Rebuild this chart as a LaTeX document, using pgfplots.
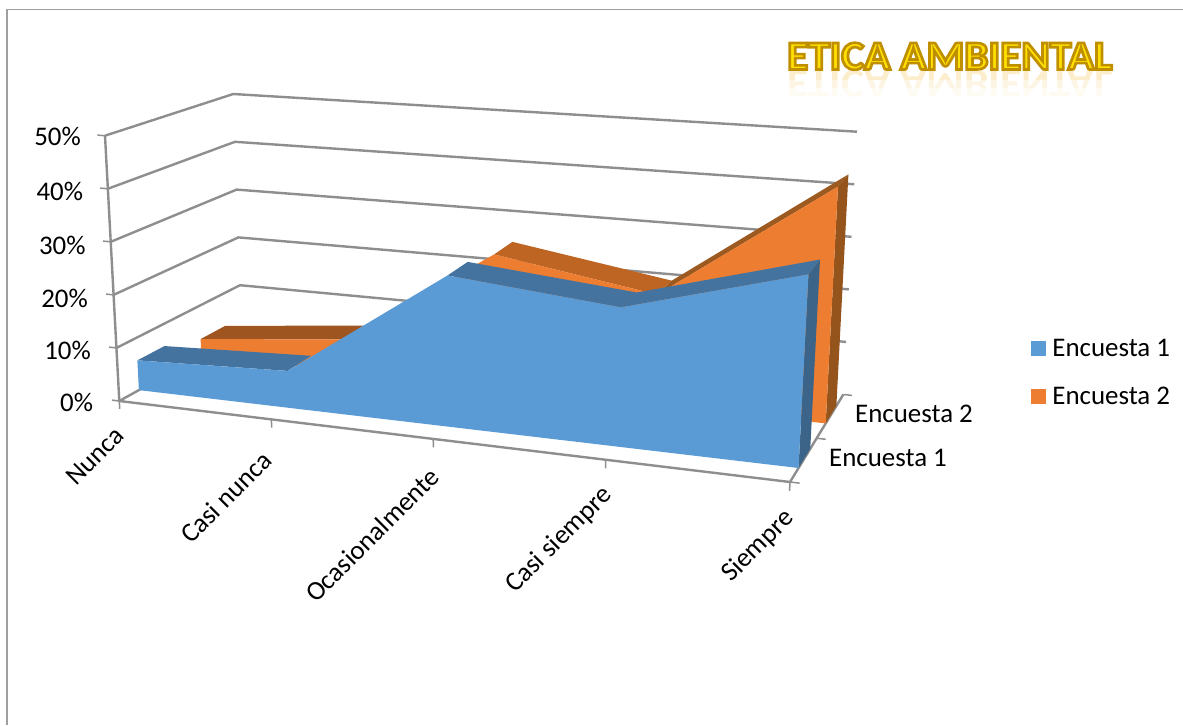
\documentclass[border=0pt]{standalone}
\usepackage{fontspec}
\setmainfont{Carlito}
\usepackage{pgfplots}
\pgfplotsset{compat=1.18}

\definecolor{serieA}{HTML}{5B9BD5}
\definecolor{serieAtop}{HTML}{44739F}
\definecolor{serieAside}{HTML}{3B6488}
\definecolor{serieB}{HTML}{ED7D31}
\definecolor{serieBflat}{HTML}{9E5520}
\definecolor{serieBtop}{HTML}{BE6524}
\definecolor{serieBramp}{HTML}{9C5A20}
\definecolor{serieBside}{HTML}{96541D}
\definecolor{rejilla}{HTML}{8E8E8E}

% one polygon: rows are "cat dep val" (category 0..4, depth 0..1, percent)
\newcommand\Face[2]{\addplot[forget plot,#1] table[row sep=\\,
    x expr={px(tc(\thisrow{cat}),\thisrow{dep},\thisrow{val}/50)},
    y expr={py(tc(\thisrow{cat}),\thisrow{dep},\thisrow{val}/50)}]
    {cat dep val\\ #2\\};}

\begin{document}
\begin{tikzpicture}
\begin{axis}[
  scale only axis,width=1183bp,height=725bp,
  xmin=0,xmax=1183,ymin=0,ymax=725,y dir=reverse,
  hide axis,clip=true,
  declare function={
    tc(\c)=0.88*(\c/4)/(1-0.12*(\c/4));
    px(\t,\s,\v)=(1-\v)*((1-\s)*(119.3+\t*670.7)+\s*(241.7+\t*601.6))+\v*((1-\s)*(105+\t*700)+\s*(233.3+\t*623.7));
    py(\t,\s,\v)=(1-\v)*((1-\s)*(401+\t*81)+\s*(333+\t*61.5))+\v*((1-\s)*(135.7+\t*53.3)+\s*(94+\t*37.7));
  },
  legend style={at={(axis cs:1031,336.5)},anchor=north west,draw=none,fill=none,
    font=\fontsize{27}{31}\selectfont,row sep=26bp,inner sep=0pt},
  legend cell align=left,
  legend image code/.code={\fill[#1,draw=none] (0bp,-7.5bp) rectangle (15bp,7.5bp);\path (19bp,0bp);},
  every axis plot/.append style={line join=round},
]
\fill[white] (axis cs:0,0) rectangle (axis cs:1183,725);
\addplot[forget plot,draw=gray!75,line width=1.6bp] coordinates {(1183,9.5) (6.7,9.5) (6.7,725)};

% walls and floor lines
\tikzset{rej/.style={draw=rejilla,line width=2.4bp}}
\pgfplotsinvokeforeach{10,20,30,40,50}{
  \Face{rej}{0 0 #1\\0 1 #1\\4 1 #1}
  \Face{rej,line width=1.5bp}{-0.05 0 #1\\0 0 #1}
}
\Face{rej}{0 1 0\\0 0 0\\4 0 0\\4 1 0}
\Face{rej,line width=1.5bp}{4 1 0\\4.05 1 0}
\Face{rej}{0 0 0\\0 0 50}
\Face{rej,line width=1.5bp}{-0.05 0 0\\0 0 0}
\pgfplotsinvokeforeach{0,1,2,3,4}{\Face{rej,line width=1.5bp}{#1 0 0\\#1 0 -1.5}}
\Face{rej,line width=1.5bp}{4 0.5 0\\4.05 0.5 0}
\Face{rej,line width=1.5bp}{4 0 0\\4.05 0 0}

% Encuesta 2 (back)
\Face{fill=serieBside,draw=none}{4 .67 0\\4 .67 43.4\\4 .87 43.4\\4 .87 0}
\Face{fill=serieBflat,draw=none}{0 .67 3.3\\1 .67 6.2\\1 .87 6.2\\0 .87 3.3}
\Face{fill=serieBtop,draw=none}{2 .67 25.6\\3 .67 20.7\\3 .87 20.7\\2 .87 25.6}
\Face{fill=serieBramp,draw=none}{3 .67 20.7\\4 .67 43.4\\4 .87 43.4\\3 .87 20.7}
\Face{fill=serieB,draw=none}{0 .67 0\\0 .67 3.3\\1 .67 6.2\\2 .67 25.6\\3 .67 20.7\\4 .67 43.4\\4 .67 0}

% Encuesta 1 (front)
\Face{fill=serieAside,draw=none}{4 .16 0\\4 .16 33.6\\4 .38 33.6\\4 .38 0}
\Face{fill=serieAtop,draw=none}{0 .16 5.7\\1 .16 6.9\\1 .38 6.9\\0 .38 5.7}
\Face{fill=serieAtop,draw=none}{2 .16 27.6\\3 .16 24.8\\3 .38 24.8\\2 .38 27.6}
\Face{fill=serieAtop,draw=none}{3 .16 24.8\\4 .16 33.6\\4 .38 33.6\\3 .38 24.8}
\Face{fill=serieA,draw=none}{0 .16 0\\0 .16 5.7\\1 .16 6.9\\2 .16 27.6\\3 .16 24.8\\4 .16 33.6\\4 .16 0}

\addlegendimage{fill=serieA}
\addlegendentry{Encuesta 1}
\addlegendimage{fill=serieB}
\addlegendentry{Encuesta 2}

% tick labels
\tikzset{lab/.style={font=\fontsize{27}{31}\selectfont,inner sep=0pt,text=black}}
\node[lab,anchor=east] at (axis cs:81,136) {50\%};
\node[lab,anchor=east] at (axis cs:83.3,191) {40\%};
\node[lab,anchor=east] at (axis cs:85.7,245) {30\%};
\node[lab,anchor=east] at (axis cs:88,298) {20\%};
\node[lab,anchor=east] at (axis cs:91,350) {10\%};
\node[lab,anchor=east] at (axis cs:93.3,402) {0\%};
\node[lab,anchor=east,rotate=45] at (axis cs:120,431) {Nunca};
\node[lab,anchor=east,rotate=45] at (axis cs:267,456) {Casi nunca};
\node[lab,anchor=east,rotate=45] at (axis cs:435,472) {Ocasionalmente};
\node[lab,anchor=east,rotate=45] at (axis cs:608,491) {Casi siempre};
\node[lab,anchor=east,rotate=45] at (axis cs:790,514) {Siempre};
\node[lab,anchor=west] at (axis cs:855,414) {Encuesta 2};
\node[lab,anchor=west] at (axis cs:829,458) {Encuesta 1};

% title, with its faint reflection
\node[anchor=base west,inner sep=0pt,font=\bfseries\fontsize{41}{45}\selectfont,opacity=.22,xscale=1.06,yscale=-1,text=serieB!60!yellow] at (axis cs:787,71) {ETICA AMBIENTAL};
\fill[white,opacity=.45] (axis cs:780,80) rectangle (axis cs:1120,105);
\fill[white,opacity=.6] (axis cs:780,88) rectangle (axis cs:1120,105);
\node[anchor=base west,inner sep=0pt,xscale=1.06,font=\bfseries\fontsize{41}{45}\selectfont] at (axis cs:787,69.5)
  {\special{pdf:code q 2 Tr 2.6 w 0.75 0.56 0 RG 1 0.88 0 rg}ETICA AMBIENTAL\special{pdf:code Q}};
\end{axis}
\end{tikzpicture}
\end{document}
